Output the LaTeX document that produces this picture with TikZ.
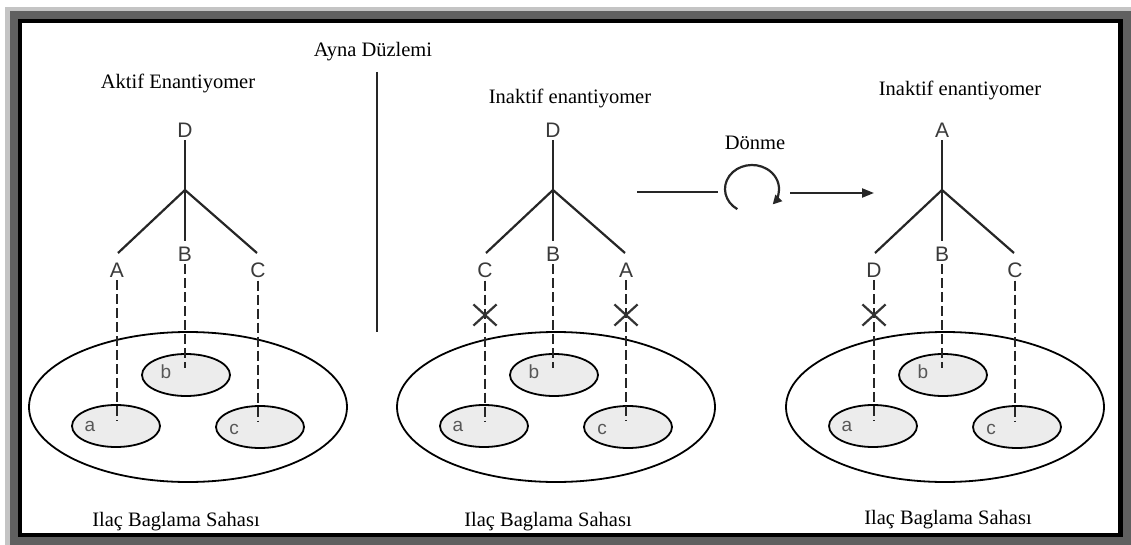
\documentclass[tikz,border=0pt]{standalone}
\usepackage{fontspec}
\setmainfont{Liberation Serif}
\newfontfamily\arialf{Liberation Sans}
\usetikzlibrary{shapes.geometric,shapes.misc,arrows.meta}
\definecolor{frameA}{HTML}{C4C4C4}
\definecolor{frameB}{HTML}{606060}
\definecolor{lettcol}{HTML}{3A3A3A}
\definecolor{pockfill}{HTML}{ECECEC}
\tikzset{
  x=1pt,y=1pt,
  ttl/.style={inner sep=0pt,font=\fontsize{20.5}{22}\selectfont},
  lett/.style={inner sep=3pt,text=lettcol,font=\arialf\fontsize{21}{21}\selectfont},
  small/.style={inner sep=0pt,text=lettcol!85,font=\arialf\fontsize{19}{19}\selectfont},
  bond/.style={line width=2.2pt,draw=black!85},
  dbond/.style={line width=1.8pt,draw=black!85,dash pattern=on 10pt off 4pt},
  site/.style={ellipse,draw,line width=1.8pt,inner sep=0pt,minimum width=318pt,minimum height=150pt},
  pocket/.style={ellipse,draw,line width=1.8pt,fill=pockfill,inner sep=0pt,minimum width=88pt,minimum height=42pt},
  xmark/.style={cross out,draw=black!80,line width=2.2pt,minimum width=21pt,minimum height=19pt,inner sep=0pt},
}
\newcommand\molpanel[5]{%
 \begin{scope}[xshift=#2]
  \node[lett] (#1T) at (185,-130) {#3};
  \coordinate (#1J) at (185,-190);
  \node[site] (#1big) at (188,-407) {};
  \node[pocket] (#1a) at (116,-426) {};
  \node[pocket] (#1b) at (186,-375) {};
  \node[pocket] (#1c) at (260,-427) {};
  \node[small] (#1la) at (90,-426) {a};
  \node[small] (#1lb) at (166,-372) {b};
  \node[small] (#1lc) at (234,-429) {c};
  \coordinate (#1ea) at (117,-421);
  \coordinate (#1eb) at (185,-368);
  \coordinate (#1ec) at (258,-421);
  \coordinate (#1bl) at (118,-253);
  \coordinate (#1bm) at (185,-241);
  \coordinate (#1br) at (257,-253);
  #4
  \draw[bond] (#1T) -- (#1J);
  \draw[bond] (#1bl) -- (#1J) -- (#1br);
  \draw[bond] (#1J) -- (#1bm);
  \draw[dbond] (#1L) -- (#1ea);
  \draw[dbond] (#1M) -- (#1eb);
  \draw[dbond] (#1R) -- (#1ec);
  #5
 \end{scope}}
\begin{document}
\begin{tikzpicture}
\useasboundingbox (0,0) rectangle (1131,-545);
\fill[white] (0,0) rectangle (1131,-545);
\fill[frameA] (5,-7) rectangle (1131,-545);
\fill[frameB] (10,-11) rectangle (1131,-545);
\fill[black] (18,-19) rectangle (1123,-537);
\fill[white] (22,-23) rectangle (1118,-533);

% titles
\node[ttl] (t1) at (178,-83) {Aktif Enantiyomer};
\node[ttl] (ayna) at (373,-52) {Ayna Düzlemi};
\node[ttl] (t2) at (570,-98) {Inaktif enantiyomer};
\node[ttl] (t3) at (960,-90) {Inaktif enantiyomer};
\node[ttl] (s1) at (176,-522) {Ilaç Baglama Sahası};
\node[ttl] (s2) at (548,-522) {Ilaç Baglama Sahası};
\node[ttl] (s3) at (948,-520) {Ilaç Baglama Sahası};

% mirror plane
\coordinate (m1) at (377,-72);
\coordinate (m2) at (377,-332);
\draw[bond] (m1) -- (m2);

% panel 1
\molpanel{p}{0}{D}{%
  \node[lett] (pL) at (117,-270) {A};
  \node[lett] (pM) at (185,-254) {B};
  \node[lett] (pR) at (258,-270) {C};}{}
% panel 2
\molpanel{q}{368}{D}{%
  \node[lett] (qL) at (117,-270) {C};
  \node[lett] (qM) at (185,-254) {B};
  \node[lett] (qR) at (258,-270) {A};}{%
  \node[xmark] (qx1) at (117,-315) {};
  \node[xmark] (qx2) at (258,-315) {};}
% panel 3
\molpanel{r}{757}{A}{%
  \node[lett] (rL) at (117,-270) {D};
  \node[lett] (rM) at (185,-254) {B};
  \node[lett] (rR) at (258,-270) {C};}{%
  \node[xmark] (rx1) at (117,-315) {};}

% rotation
\node[ttl] (dn) at (755,-143) {Dönme};
\coordinate (ra) at (637,-192);
\coordinate (rb) at (718,-192);
\draw[bond] (ra) -- (rb);
\coordinate (rc) at (752,-189);
\draw[line width=2.2pt,draw=black!85,-{Triangle[length=9pt,width=9pt]}] ([shift={(237:27 and 24)}]rc) arc[start angle=237,end angle=-40,x radius=27,y radius=24];
\coordinate (rd) at (790,-193);
\coordinate (re) at (874,-193);
\draw[bond,-{Triangle[length=12pt,width=9pt]}] (rd) -- (re);
\end{tikzpicture}
\end{document}
